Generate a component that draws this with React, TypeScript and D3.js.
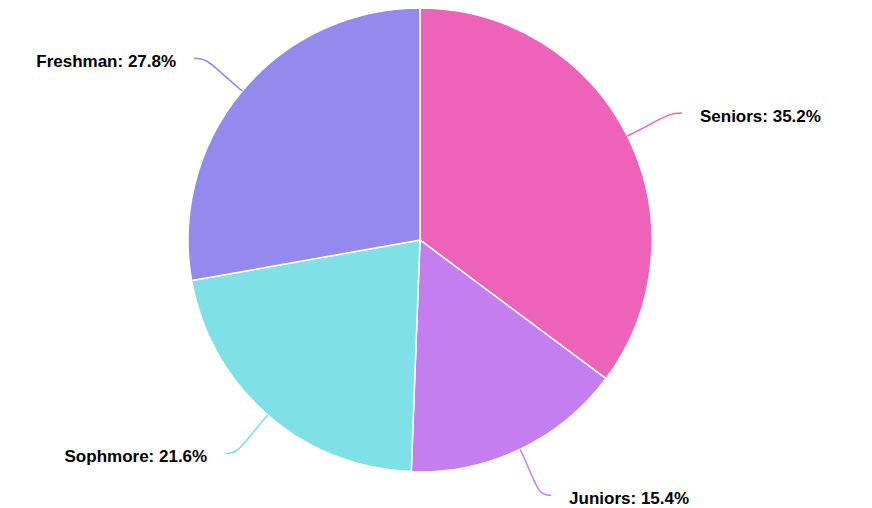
import React from "react";
import * as d3 from "d3";

const categories = ["Seniors", "Juniors", "Sophmore", "Freshman"];
const values = [35.2, 15.4, 21.6, 27.8];
const colors = ["#EC63B9", "#C47EF0", "#7FE1E5", "#9489EC"];

const W = 872;
const H = 508;
const cx = 420;
const cy = 240;
const R = 232;
const R2 = 283;
const L2 = 9;

export default function App() {
  const pie = d3.pie<number>().sort(null).value((d) => d)(values);
  const arc = d3.arc<d3.PieArcDatum<number>>().innerRadius(0).outerRadius(R);
  return (
    <svg
      width={W}
      height={H}
      style={{ position: "absolute", left: 0, top: 0 }}
      fontFamily="'Liberation Sans', Arial, sans-serif"
    >
      <g transform={`translate(${cx},${cy})`}>
        {pie.map((p, i) => (
          <path key={i} d={arc(p) || ""} fill={colors[i]} stroke="#fff" strokeWidth={1.5} />
        ))}
        {pie.map((p, i) => {
          const a = (p.startAngle + p.endAngle) / 2;
          const s = Math.sin(a);
          const c = -Math.cos(a);
          const x0 = R * s, y0 = R * c;
          const x1 = R2 * s, y1 = R2 * c;
          const dir = s >= 0 ? 1 : -1;
          const x2 = x1 + dir * L2;
          const path = d3.path();
          path.moveTo(x0, y0);
          const mx = (x0 + x1) / 2, my = (y0 + y1) / 2;
          path.bezierCurveTo(mx + (x1 - x0) * 0.3, my + (y1 - y0) * 0.3, x1 - dir * 6, y1, x2, y1);
          const tx = x2 + dir * 18;
          return (
            <g key={"l" + i}>
              <path d={path.toString()} fill="none" stroke={colors[i]} strokeWidth={1.5} />
              <text
                x={tx}
                y={y1 + 3}
                textAnchor={dir > 0 ? "start" : "end"}
                dominantBaseline="central"
                fontSize={17}
                fontWeight="bold"
                fill="#000"
              >
                {`${categories[i]}: ${values[i]}%`}
              </text>
            </g>
          );
        })}
      </g>
    </svg>
  );
}
